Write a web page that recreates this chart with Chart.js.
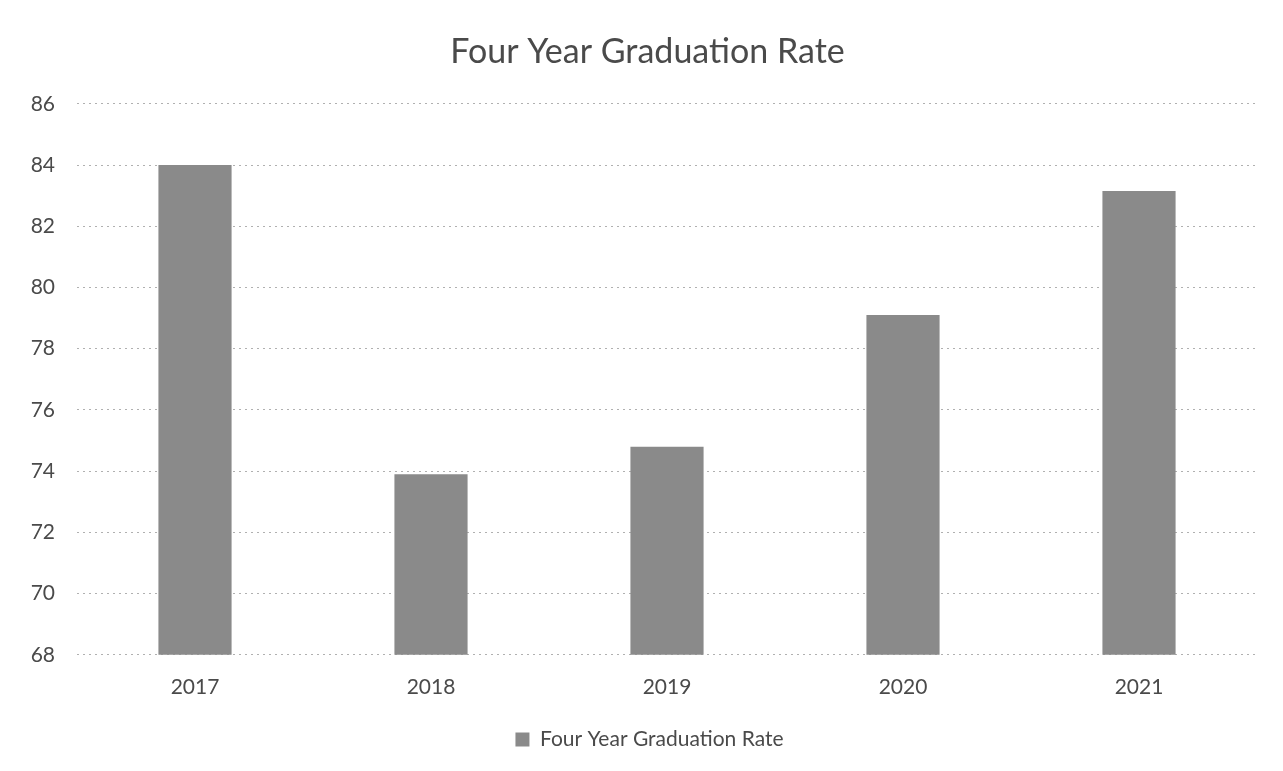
<!DOCTYPE html>
<html>
<head>
<meta charset="utf-8">
<script src="https://cdn.jsdelivr.net/npm/chart.js@4"></script>
<style>
html,body{margin:0;padding:0;background:#fff;}
#wrap{width:1283px;height:771px;position:relative;}
</style>
</head>
<body>
<div id="wrap"><canvas id="c" width="1283" height="771"></canvas></div>
<script>
const categories = ["2017", "2018", "2019", "2020", "2021"];
const graduationRate = [84.0, 73.9, 74.8, 79.1, 83.15];
const yTicks = [68, 70, 72, 74, 76, 78, 80, 82, 84, 86];
const seriesName = "Four Year Graduation Rate";
const chartTitle = "Four Year Graduation Rate";

const FONT = "Lato, 'Open Sans', sans-serif";
const TEXT = "#4a4a4a";
const BAR = "#8a8a8a";

// nudge title and legend boxes to match the original's centring
const nudgeBoxes = {
  id: 'nudgeBoxes',
  afterLayout(chart) {
    const t = chart.titleBlock;
    if (t) { t.left += 19; t.right += 19; }
    const l = chart.legend;
    if (l) { l.left += 21; l.right += 21; l.top -= 3; l.bottom -= 3; }
  }
};

new Chart(document.getElementById('c'), {
  type: 'bar',
  data: {
    labels: categories,
    datasets: [{
      label: seriesName,
      data: graduationRate,
      backgroundColor: BAR,
      borderWidth: 0,
      barPercentage: 0.31,
      categoryPercentage: 1.0
    }]
  },
  options: {
    responsive: false,
    animation: false,
    layout: { padding: { left: 0, right: 26, top: 0, bottom: 8 } },
    plugins: {
      title: {
        display: true,
        text: chartTitle,
        color: TEXT,
        font: { family: FONT, size: 34, weight: 'normal' },
        padding: { top: 32, bottom: 31 }
      },
      legend: {
        position: 'bottom',
        labels: {
          color: TEXT,
          font: { family: FONT, size: 21 },
          boxWidth: 14,
          boxHeight: 14,
          padding: 12
        }
      },
      tooltip: { enabled: false }
    },
    scales: {
      x: {
        grid: { display: false, drawTicks: false },
        border: { display: false },
        ticks: { color: TEXT, font: { family: FONT, size: 21 }, padding: 20 }
      },
      y: {
        min: 68,
        max: 86,
        afterBuildTicks: (s) => { s.ticks = yTicks.map(v => ({ value: v })); },
        afterFit: (s) => { s.width = 77; },
        grid: { color: '#b0b0b0', drawTicks: false, lineWidth: 1 },
        border: { display: false, dash: [2, 4] },
        ticks: { color: TEXT, font: { family: FONT, size: 21 }, padding: 22 }
      }
    }
  },
  plugins: [nudgeBoxes]
});
</script>
</body>
</html>
